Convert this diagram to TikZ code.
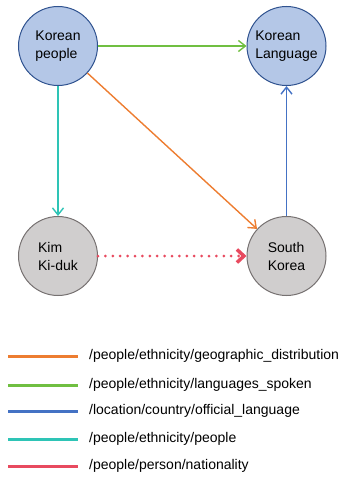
\documentclass[tikz,border=0pt]{standalone}
\usepackage{fontspec}
\setmainfont{Liberation Sans}
\usetikzlibrary{arrows.meta}
\definecolor{entfill}{HTML}{B4C7E7}
\definecolor{entdraw}{HTML}{2F528F}
\definecolor{perfill}{HTML}{D0CECE}
\definecolor{perdraw}{HTML}{767171}
\definecolor{corange}{HTML}{ED7D31}
\definecolor{cgreen}{HTML}{70BF41}
\definecolor{cblue}{HTML}{4472C4}
\definecolor{cteal}{HTML}{2EC4B6}
\definecolor{cred}{HTML}{E84A5F}
\tikzset{
  ent/.style={circle, draw=entdraw, fill=entfill, line width=1pt, minimum size=79pt, inner sep=0pt,
    align=left, font=\fontsize{14}{18}\selectfont},
  per/.style={ent, draw=perdraw, fill=perfill},
  rel/.style={line width=1.4pt, -{Straight Barb[length=7pt,width=11pt,line width=1.4pt]}},
  nat/.style={line width=3pt, dash pattern=on 0pt off 7.4pt, line cap=round, cred,
    -{Straight Barb[length=7pt,width=13pt,line width=3.5pt, line cap=butt]}},
  legline/.style={line width=3pt},
  legtext/.style={anchor=west, inner sep=0pt, font=\fontsize{14}{16}\selectfont}
}
\begin{document}
\begin{tikzpicture}[x=1pt,y=-1pt]
\useasboundingbox (0,0) rectangle (341,479);
\node[ent] (kp) at (58,46) {Korean\\people};
\node[ent] (kl) at (286.5,46) {Korean\\Language};
\node[per] (kk) at (58,256) {Kim\\Ki-duk};
\node[per] (sk) at (286.5,256) {South\\Korea};

\draw[rel, cgreen] (kp) -- (kl);
\draw[rel, corange] (kp) -- (sk);
\draw[rel, cteal] (kp) -- (kk);
\draw[rel, cblue] (sk) -- (kl);
\draw[nat] (kk) -- (sk);

% legend
\coordinate (l1a) at (8,356); \coordinate (l1b) at (78,356);
\coordinate (l2a) at (8,385); \coordinate (l2b) at (78,385);
\coordinate (l3a) at (8,411); \coordinate (l3b) at (78,411);
\coordinate (l4a) at (8,439); \coordinate (l4b) at (78,439);
\coordinate (l5a) at (8,466); \coordinate (l5b) at (78,466);
\draw[legline, corange] (l1a) -- (l1b);
\draw[legline, cgreen] (l2a) -- (l2b);
\draw[legline, cblue] (l3a) -- (l3b);
\draw[legline, cteal] (l4a) -- (l4b);
\draw[legline, cred] (l5a) -- (l5b);
\node[legtext] (t1) at (89,356) {/people/ethnicity/geographic\_distribution};
\node[legtext] (t2) at (89,385) {/people/ethnicity/languages\_spoken};
\node[legtext] (t3) at (89,411) {/location/country/official\_language};
\node[legtext] (t4) at (89,439) {/people/ethnicity/people};
\node[legtext] (t5) at (89,466) {/people/person/nationality};
\end{tikzpicture}
\end{document}
